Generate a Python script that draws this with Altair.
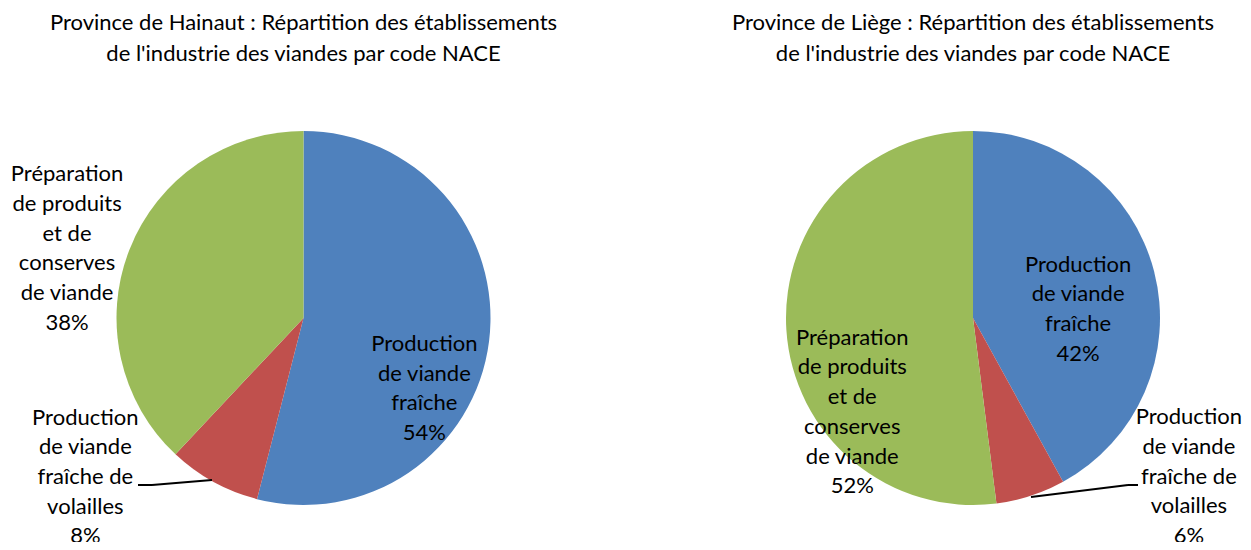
import altair as alt
import pandas as pd

# ---- data ----
categories = [
    "Production de viande fraîche",
    "Production de viande fraîche de volailles",
    "Préparation de produits et de conserves de viande",
]
label_lines = [
    "Production\nde viande\nfraîche",
    "Production\nde viande\nfraîche de\nvolailles",
    "Préparation\nde produits\net de\nconserves\nde viande",
]
hainaut_values = [54, 8, 38]
liege_values = [42, 6, 52]
titles = {
    "Hainaut": ["Province de Hainaut : Répartition des établissements",
                "de l'industrie des viandes par code NACE"],
    "Liège": ["Province de Liège : Répartition des établissements",
              "de l'industrie des viandes par code NACE"],
}
colors = ["#4F81BD", "#C0504D", "#9BBB59"]

FONT = "Lato"
FS = 22
TFS = 22
R = 187
LH = 29.7


def make_df(values):
    return pd.DataFrame({
        "category": categories,
        "label": label_lines,
        "value": values,
        "idx": list(range(len(categories))),
    })


color_scale = alt.Scale(domain=categories, range=colors)


def pie(values, title_lines, cx, cy, label_specs, leaders):
    df = make_df(values)
    base = alt.Chart(df).transform_calculate(
        txt="datum.label + '\\n' + datum.value + '%'"
    ).encode(
        theta=alt.Theta("value:Q", stack=True),
        order=alt.Order("idx:Q"),
    )
    arc = base.mark_arc(outerRadius=R).encode(
        color=alt.Color("category:N", scale=color_scale, legend=None),
        x=alt.value(cx), y=alt.value(cy),
    )
    layers = [arc]
    for cat, lab, (rad, dx, dy) in zip(categories, label_lines, label_specs):
        n_lines = lab.count("\n") + 2
        layers.append(
            base.mark_text(radius=rad, dx=dx, dy=dy - (n_lines - 1) * LH / 2,
                           font=FONT, fontSize=FS,
                           lineBreak="\n", lineHeight=LH, align="center",
                           baseline="middle", color="#000000").encode(
                x=alt.value(cx), y=alt.value(cy),
                text=alt.condition(alt.datum.category == cat,
                                   alt.Text("txt:N"), alt.value("")),
            )
        )
    for (x1, y1, x2, y2) in leaders:
        layers.append(
            alt.Chart(alt.Data(values=[{}])).mark_rule(color="#000000", strokeWidth=2).encode(
                x=alt.value(x1), y=alt.value(y1), x2=alt.value(x2), y2=alt.value(y2)
            )
        )
    layers.append(
        alt.Chart(alt.Data(values=[{}])).mark_text(
            text=title_lines, font=FONT, fontSize=TFS, lineHeight=31,
            align="center", baseline="middle", color="#000000"
        ).encode(x=alt.value(cx), y=alt.value(15))
    )
    return layers


h_layers = pie(
    hainaut_values, titles["Hainaut"], 295.5, 310,
    [(140, -18, 53), (210, -117, -25), (250, -4, 22.5)],
    [(130, 477, 144, 477), (144, 477, 204, 472)],
)
l_layers = pie(
    liege_values, titles["Liège"], 965, 310,
    [(108, 0.5, 18), (210, 151, -41), (120, -1, 86.5)],
    [(1023, 489, 1120, 477), (1120, 477, 1130, 477)],
)

chart = alt.layer(*(h_layers + l_layers)).properties(
    width=1235, height=534, padding=0, autosize="none"
).configure_view(stroke=None)

chart.save("out.html", embed_options={"renderer": "svg", "actions": False})
